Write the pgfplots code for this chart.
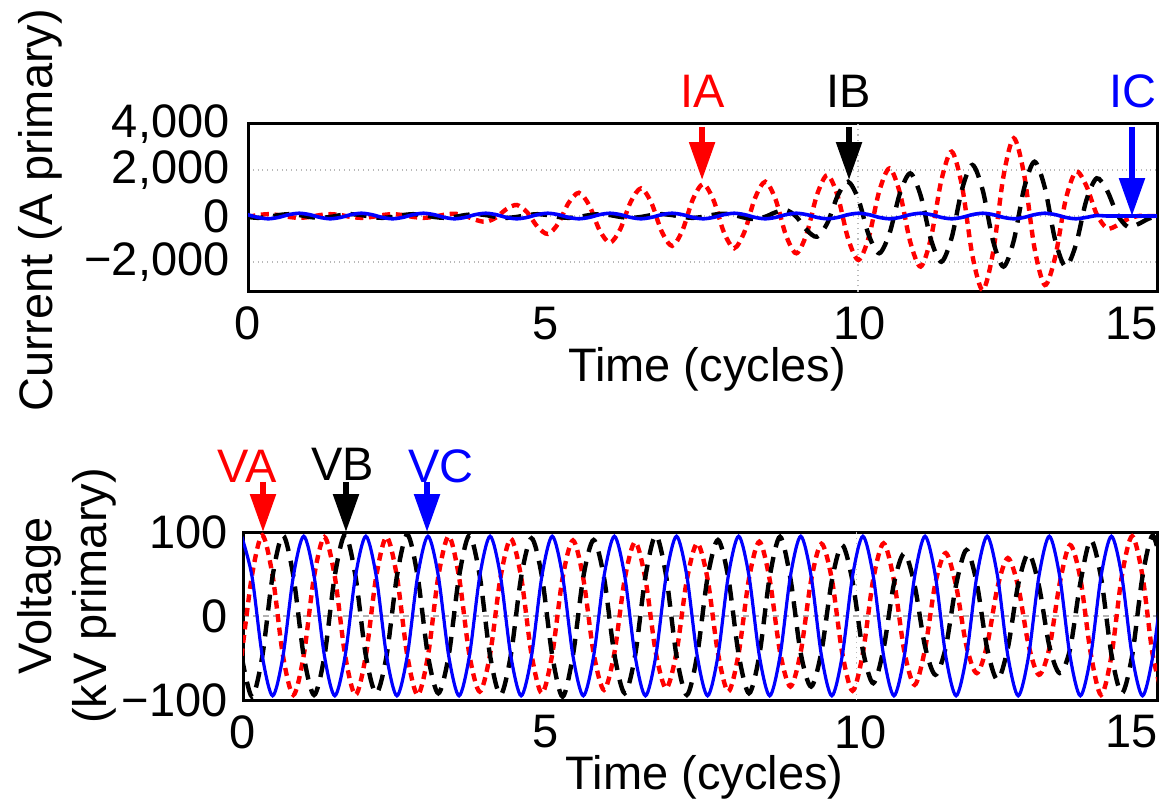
\documentclass[border=0pt]{standalone}
\usepackage{fontspec}
\setmainfont{Liberation Sans}
\usepackage{pgfplots}
\pgfplotsset{compat=1.18}
\usepackage{pgfplotstable}
\usetikzlibrary{arrows.meta}

\pgfplotstableread{
t ia ib ic
-0.0085 -40 -40 60
0.1613 40 -80 -60
0.3310 80 -40 -120
0.5008 40 40 -60
0.6705 -40 80 60
0.8403 -80 40 120
1.0100 -40 -40 60
1.1798 40 -80 -60
1.3495 80 -40 -120
1.5193 40 40 -60
1.6890 -40 80 60
1.8588 -80 40 120
2.0285 -40 -40 60
2.1983 40 -80 -60
2.3680 80 -40 -120
2.5378 40 40 -60
2.7075 -40 80 60
2.8773 -80 40 120
3.0470 -35 -40 60
3.2168 55 -80 -60
3.3865 100 -40 -120
3.5563 12 40 -60
3.7260 -162 80 60
3.8958 -250 40 120
4.0655 -68 -40 60
4.2353 298 -80 -60
4.4050 480 -40 -120
4.5748 165 40 -60
4.7445 -465 80 60
4.9143 -780 40 120
5.0840 -332 -40 60
5.2538 562 -80 -60
5.4235 1010 -40 -120
5.5933 468 40 -60
5.7630 -618 80 60
5.9328 -1160 40 120
6.1025 -570 -40 60
6.2723 610 -80 -60
6.4420 1200 -40 -120
6.6118 575 40 -60
6.7815 -675 80 60
6.9513 -1300 40 120
7.1210 -628 -40 60
7.2908 718 -80 -60
7.4605 1390 -35 -120
7.6303 692 55 -60
7.8000 -702 100 60
7.9698 -1400 42 120
8.1395 -678 -72 60
8.3093 768 -130 -60
8.4790 1490 -32 -120
8.6488 712 162 -60
8.8185 -842 260 60
8.9883 -1620 -30 120
9.1580 -770 -610 60
9.3278 930 -900 -60
9.4975 1780 -302 -120
9.6673 858 892 -60
9.8370 -988 1490 60
10.0068 -1910 712 120
10.1765 -915 -842 60
10.3463 1075 -1620 -60
10.5160 2070 -751 -120
10.6858 1002 986 -60
10.8555 -1132 1855 60
11.0253 -2200 894 120
11.1950 -950 -1029 60
11.3648 1550 -1990 -60
11.5345 2800 -938 -120
11.7043 1295 1168 -60
11.8740 -1715 2220 60
12.0438 -3220 1115 120
12.2135 -1570 -1095 60
12.3833 1730 -2200 -60
12.5530 3380 -1060 -120
12.7228 1785 1220 -60
12.8925 -1405 2360 60
13.0623 -3000 1220 120
13.2320 -1768 -1060 60
13.4018 698 -2200 -60
13.5715 1930 -1240 -120
13.7413 1314 680 -60
13.9110 81 1640 20
14.0808 -535 1112 0
14.2505 -401 58 0
14.4203 -134 -470 0
14.5900 0 -352 0
14.7598 0 -118 0
14.9295 0 0 0
}\topdata

\pgfplotstableread{
t va vb vc
-0.0230 -48 -48 95
0.1458 48 -96 47.5
0.3146 96 -48 -47.5
0.4834 47.5 48 -95
0.6522 -47.5 96 -47.5
0.8211 -94 47.5 47.5
0.9899 -47 -47.5 95
1.1587 47 -94 47.5
1.3275 94 -47.8 -47.5
1.4963 47 47.8 -95
1.6651 -47 97 -47.5
1.8339 -94 47.3 47.5
2.0027 -47 -47.3 95
2.1715 47 -92 47.5
2.3403 94 -47.3 -47.5
2.5092 47 47.3 -95
2.6780 -47 97 -47.5
2.8468 -94 47.3 47.5
3.0156 -47.3 -47.3 95
3.1844 47.3 -92 47.5
3.3532 95 -47 -47.5
3.5220 46.3 47 -95
3.6908 -46.3 96 -47.5
3.8596 -90 47.5 47.5
4.0284 -45.5 -47.5 95
4.1973 45.5 -94 47.5
4.3661 92 -46.6 -47.5
4.5349 46 46.6 -95
4.7037 -46 92.5 -47.5
4.8725 -92 47.1 47.5
5.0413 -45.5 -47.1 95
5.2101 45.5 -96 47.5
5.3789 90 -46.6 -47.5
5.5477 44.5 46.6 -95
5.7165 -44.5 90.5 -47.5
5.8854 -88 45.6 47.5
6.0542 -44 -45.6 95
6.2230 44 -92 47.5
6.3918 88 -47 -47.5
6.5606 43.5 47 -95
6.7294 -43.5 96 -47.5
6.8982 -86 47.5 47.5
7.0670 -43.1 -47.5 95
7.2358 43.1 -94 47.5
7.4046 86.5 -46.1 -47.5
7.5735 44.1 46.1 -95
7.7423 -44.1 90.5 -47.5
7.9111 -90 45.6 47.5
8.0799 -44.6 -45.6 95
8.2487 44.6 -92 47.5
8.4175 88.5 -46.6 -47.5
8.5863 43.1 46.6 -95
8.7551 -43.1 94.4 -47.5
8.9239 -84 44.6 47.5
9.0927 -42.5 -44.6 95
9.2616 42.5 -84 47.5
9.4304 86 -42.1 -47.5
9.5992 43.8 42.1 -95
9.7680 -43.8 84.5 -47.5
9.9368 -89 41.1 47.5
10.1056 -43.9 -41.1 95
10.2744 43.9 -80 47.5
10.4432 86.5 -38.7 -47.5
10.6120 42.1 38.7 -95
10.7808 -42.1 74.6 -47.5
10.9497 -82 36.2 47.5
11.1185 -39.3 -36.2 95
11.2873 39.3 -70 47.5
11.4561 75 -37.2 -47.5
11.6249 35.8 37.2 -95
11.7937 -35.8 78.6 -47.5
11.9625 -68 38.7 47.5
12.1313 -34.3 -38.7 95
12.3001 34.3 -76 47.5
12.4689 69 -37.7 -47.5
12.6378 34.8 37.7 -95
12.8066 -34.8 74.6 -47.5
12.9754 -70 35.7 47.5
13.1442 -38.6 -35.7 95
13.3130 38.6 -68 47.5
13.4818 84.5 -39.6 -47.5
13.6506 44.6 39.6 -95
13.8194 -44.6 90.5 -47.5
13.9882 -94 45.6 47.5
14.1570 -47.3 -45.6 95
14.3259 47.3 -92 47.5
14.4947 95 -47 -47.5
14.6635 47.5 47 -95
14.8323 -47.5 96 -47.5
15.0011 -95 47.5 47.5
}\bottomdata

\begin{document}
\fontsize{23.5}{27.5}\selectfont
\begin{tikzpicture}
\useasboundingbox (0,0) rectangle (580pt,-400.5pt);
\pgfplotsset{
  common/.style={
    scale only axis,
    anchor=north west,
    xmin=0, xmax=14.9,
    axis line style={line width=1.5pt},
    major tick length=0pt,
    tick label style={font=\fontsize{23.5}{27.5}\selectfont},
    label style={font=\fontsize{23.5}{27.5}\selectfont},
    xticklabel style={anchor=north, inner sep=0pt, yshift=-7.5pt},
    xticklabels={0,5,10,15},
    xlabel={Time (cycles)},
    xlabel style={at={(axis description cs:0.505,0)}, anchor=north, inner sep=0pt, yshift=-27.5pt},
    clip mode=individual,
    ymajorgrids,
  },
  ia/.style={red, line width=2.2pt, dash pattern=on 4pt off 2.8pt, smooth},
  ib/.style={black, line width=2.2pt, dash pattern=on 8pt off 5pt, smooth},
  ic/.style={blue, line width=1.6pt, smooth},
}
% ---------- top: current ----------
\begin{axis}[common,
  at={(124pt,-62pt)}, width=454.5pt, height=83.85pt,
  ymin=-3290, ymax=4000,
  xtick={0,4.885,10.03,14.49},
  ytick={-2000,0,2000,4000},
  yticklabels={{−2,000},{0},{2,000},{4,000}},
  yticklabel style={anchor=east, inner sep=0pt, xshift=-9pt},
  grid style={gray!55, dotted, line width=0.6pt},
  ylabel={Current (A primary)},
  ylabel style={at={(axis description cs:-0.2288,0.487)}, anchor=center, inner sep=0pt},
]
\draw[gray!55, dotted, line width=0.6pt] (axis cs:10,-3290) -- (axis cs:10,4000);
\addplot[ia] table[x=t, y=ia] {\topdata};
\addplot[ib] table[x=t, y=ib] {\topdata};
\addplot[ic, line width=1.8pt] table[x=t, y=ic] {\topdata};
\draw[red, line width=2.75pt, -{Triangle[length=19pt, width=12.5pt]}] (axis cs:7.443,3870) -- (axis cs:7.443,1565);
\draw[black, line width=2.75pt, -{Triangle[length=19pt, width=12.5pt]}] (axis cs:9.852,3870) -- (axis cs:9.852,1565);
\draw[blue, line width=2.75pt, -{Triangle[length=19pt, width=12.5pt]}] (axis cs:14.49,3870) -- (axis cs:14.49,0);
\node[text=red, inner sep=0pt] at (axis cs:7.45,5435) {IA};
\node[text=black, inner sep=0pt] at (axis cs:9.85,5435) {IB};
\node[text=blue, inner sep=0pt] at (axis cs:14.5,5435) {IC};
\end{axis}
% ---------- bottom: voltage ----------
\begin{axis}[common,
  at={(121.5pt,-266pt)}, width=457pt, height=84pt,
  ymin=-100, ymax=100,
  xtick={0,4.94,10.07,14.49},
  ytick={-100,0,100},
  yticklabels={{−100},{0},{100}},
  yticklabel style={anchor=east, inner sep=0pt, xshift=-7.5pt},
  grid style={gray!60, densely dashed, line width=0.6pt},
  ylabel={Voltage\\(kV primary)},
  ylabel style={at={(axis description cs:-0.1926,0.619)}, anchor=center, inner sep=0pt, align=center},
]
\draw[gray!55, dotted, line width=0.6pt] (axis cs:10,-100) -- (axis cs:10,100);
\addplot[ia] table[x=t, y=va] {\bottomdata};
\addplot[ib] table[x=t, y=vb] {\bottomdata};
\addplot[ic] table[x=t, y=vc] {\bottomdata};
\draw[red, line width=2.75pt, -{Triangle[length=19pt, width=12.5pt]}] (axis cs:0.326,159.5) -- (axis cs:0.326,100);
\draw[black, line width=2.75pt, -{Triangle[length=19pt, width=12.5pt]}] (axis cs:1.679,159.5) -- (axis cs:1.679,100);
\draw[blue, line width=2.75pt, -{Triangle[length=19pt, width=12.5pt]}] (axis cs:3.0,159.5) -- (axis cs:3.0,100);
\node[text=red, inner sep=0pt] at (axis cs:0.073,178.6) {VA};
\node[text=black, inner sep=0pt] at (axis cs:1.63,180) {VB};
\node[text=blue, inner sep=0pt] at (axis cs:3.23,178.6) {VC};
\end{axis}
\end{tikzpicture}
\end{document}
